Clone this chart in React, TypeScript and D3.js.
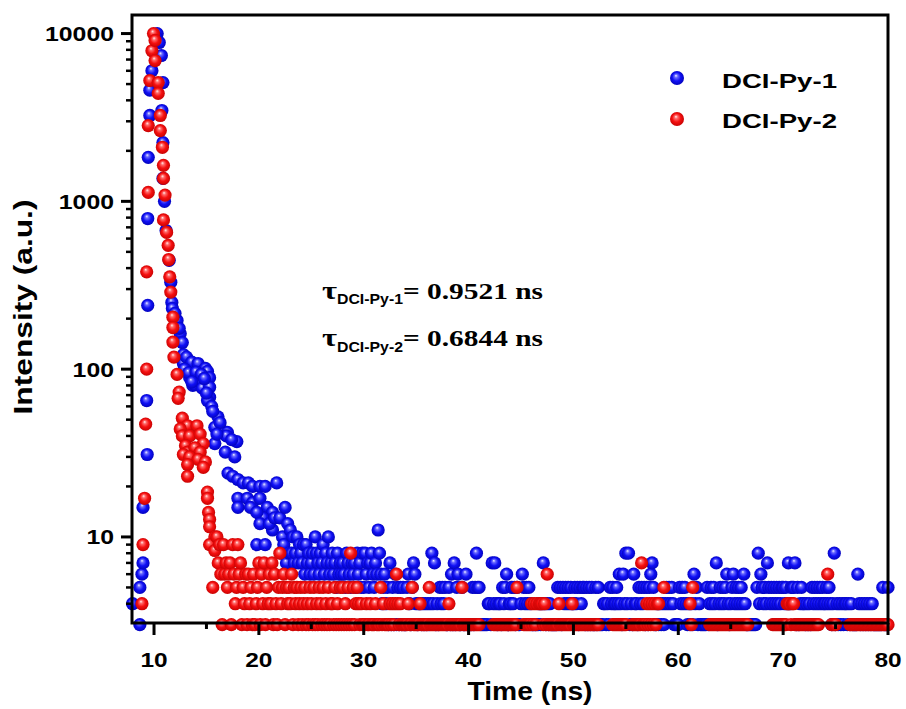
import React from "react";
import * as d3 from "d3";

// ---------------- data ----------------
const seriesNames = ["DCI-Py-1", "DCI-Py-2"];
const xTickValues = [10, 20, 30, 40, 50, 60, 70, 80];
const yTickValues = [10, 100, 1000, 10000];
const tauLabels = ["= 0.9521 ns", "= 0.6844 ns"];

// channel width of the tail histograms (ns); tail counts are base-36 chars per channel, "0" = below axis
const channelWidth = 0.125;

// DCI-Py-1 : rise / peak / early decay (time ns, counts)
const py1PeakTime = [7.95, 8.65, 8.65, 8.85, 8.95, 8.95, 9.35, 9.3, 9.4, 9.4, 9.45, 9.6, 9.6, 9.8, 10.3, 10.2, 10.5, 10.7, 10.85, 10.75, 10.85, 10.85, 11.0, 11.15, 11.45, 11.6, 11.7, 11.75, 12.2, 12.5, 12.7, 12.8, 12.8, 13.1, 13.6, 14.2, 14.9, 15.1, 15.3, 13.4, 13.7, 13.9, 14.4, 14.6, 15.3, 15.3, 15.1, 15.5, 16.1, 15.8, 16.5, 17.0, 17.9, 16.8, 15.8, 17.06, 17.5, 18.0, 18.5, 19.0, 19.4, 20.1, 20.6, 21.7, 18.0, 18.9, 19.4, 20.1, 20.8, 21.3, 20.4, 18.0, 19.2, 19.8, 20.1, 21.3, 19.8, 20.6, 21.0, 21.5, 12.9, 13.3, 14.0, 14.5, 14.8, 13.6, 15.0, 15.6, 16.3, 16.9, 17.4, 16.0, 17.7, 12.4, 12.0];
const py1PeakCounts = [4, 3, 5, 6, 7, 15, 31, 65, 240, 790, 1830, 3250, 4600, 6000, 10000, 9500, 8850, 7400, 5100, 3480, 2240, 1370, 1000, 670, 445, 330, 250, 230, 195, 163, 144, 122, 108, 118, 110, 108, 101, 97, 89, 89, 80, 81, 86, 77, 78, 68, 65, 60, 52, 45, 43, 42, 37, 32, 36, 24, 23, 22, 21, 21, 20, 20, 20, 21, 17, 17, 16, 17, 15, 14, 13, 15, 15, 14, 12, 11, 9, 9, 12, 13, 100, 95, 96, 93, 88, 84, 72, 56, 48, 40, 38, 41, 30, 175, 215];
const py1TailStart = 22;
const py1TailCounts = [
  "d8a9f7c8", "b8a78a79", "87969786", "786a8768", "79687a67", "86758676", "76587657", "67586758",
  "58675786", "576b8645", "64537353", "63535353", "35643576", "43443434", "34348473", "43545453",
  "35363735", "63353363", "33353585", "53333334", "43747434", "43545634", "45453533", "46545454",
  "33333343", "47434343", "33335353", "54545454", "45453545", "53535353", "35353334", "43435454",
  "45464364", "84834364", "43545453", "53567533", "43434345", "45454333", "35454543", "43436453",
  "43333353", "45454734", "54545643", "45645454", "54643333", "33335846", "54547545", "45454545",
  "54547455", "57353454", "43434354", "54545454", "45454348", "34343434", "43434333", "36434343",
  "43434333", "33335333", "5",
].join("");

// DCI-Py-2 : rise / peak / early decay (time ns, counts)
const py2PeakTime = [8.85, 8.95, 9.1, 9.2, 9.3, 9.3, 9.45, 9.45, 9.6, 9.8, 9.95, 10.1, 10.1, 10.4, 10.4, 10.6, 10.6, 10.8, 10.9, 10.9, 11.05, 10.9, 11.2, 11.35, 11.4, 11.5, 11.6, 11.8, 11.8, 11.8, 11.9, 12.2, 12.4, 12.3, 12.7, 13.2, 14.1, 12.5, 12.7, 13.4, 14.4, 14.7, 13.0, 13.2, 13.9, 14.4, 12.8, 13.4, 14.2, 14.9, 13.2, 14.7, 13.2, 15.1, 15.1, 15.2, 15.3, 15.3, 15.8, 15.3, 15.8, 15.6];
const py2PeakCounts = [4, 9, 17, 47, 100, 380, 1130, 2830, 5250, 7900, 10000, 9100, 6900, 5100, 4400, 3250, 2640, 2100, 1640, 1370, 1090, 775, 653, 547, 450, 355, 288, 204, 177, 145, 118, 93, 73, 67, 51, 46, 46, 44, 40, 40, 41, 36, 35, 32, 34, 32, 31, 30, 29, 28, 27, 26, 23, 18.5, 17, 14, 12.7, 11.5, 10, 9, 8.3, 5];
const py2TailStart = 16;
const py2TailCounts = [
  "a7963967", "56739645", "96735463", "64536345", "73647354", "64736435", "84563545", "46354534",
  "53453435", "43534354", "35343534", "43534353", "53435383", "53454343", "33433433", "34333534",
  "33334343", "46434333", "33433533", "33343333", "33533333", "33333333", "34333333", "33353333",
  "33333333", "30000000", "00033333", "33333333", "33333500", "00333333", "43434044", "43436333",
  "33333433", "33333334", "33333333", "33333333", "33330000", "00000033", "33333333", "30000333",
  "33337333", "43434343", "44000500", "00000000", "00000000", "04350000", "00000000", "33333333",
  "33333333", "33333333", "33333300", "00000000", "00000000", "33333333", "33344434", "43333333",
  "33333333", "33330000", "00600333", "30000000", "00033333", "33333333", "33333333", "33333333",
  "3",
].join("");

// ---------------- helpers ----------------
type Pt = { t: number; v: number };
function buildSeries(times: number[], counts: number[], tailStart: number, tail: string): Pt[] {
  const peak = times.map((t, i) => ({ t, v: counts[i] }));
  const tailPts = tail
    .split("")
    .map((c, i) => ({ t: tailStart + i * channelWidth, v: parseInt(c, 36) }))
    .filter((d) => d.v > 0);
  return peak.concat(tailPts);
}

const W = 906;
const H = 709;
const L = 132, R = 888, T = 15, B = 623;
const SANS = "'Liberation Sans', Arial, Helvetica, sans-serif";
const SERIF = "'Liberation Serif', 'Times New Roman', serif";

export default function App() {
  const x = d3.scaleLinear().domain([7.9, 80]).range([L, R]);
  const y = d3.scaleLog().domain([3.07, 12900]).range([B, T]);

  const s1 = buildSeries(py1PeakTime, py1PeakCounts, py1TailStart, py1TailCounts);
  const s2 = buildSeries(py2PeakTime, py2PeakCounts, py2TailStart, py2TailCounts);

  const xMinor = d3.range(15, 80, 10);
  const yMinor: number[] = [];
  [1, 10, 100, 1000].forEach((dec) => {
    for (let k = 2; k <= 9; k++) {
      const v = k * dec;
      if (v > 3.1 && v < 12900) yMinor.push(v);
    }
  });

  const r = 6.6;
  const colors = ["b", "r"];

  return (
    <svg width={W} height={H} style={{ position: "absolute", left: 0, top: 0, background: "#fff" }}>
      <defs>
        <radialGradient id="g-b" cx="0.5" cy="0.5" r="0.55" fx="0.42" fy="0.32">
          <stop offset="0%" stopColor="#f4f4ff" />
          <stop offset="22%" stopColor="#6a6aff" />
          <stop offset="55%" stopColor="#1010f5" />
          <stop offset="100%" stopColor="#0000b4" />
        </radialGradient>
        <radialGradient id="g-r" cx="0.5" cy="0.5" r="0.55" fx="0.42" fy="0.32">
          <stop offset="0%" stopColor="#fff2f2" />
          <stop offset="22%" stopColor="#ff6a6a" />
          <stop offset="55%" stopColor="#f51010" />
          <stop offset="100%" stopColor="#c00000" />
        </radialGradient>
      </defs>
      <rect x={0} y={0} width={W} height={H} fill="#fff" />

      {/* data */}
      <g>
        {s1.map((d, i) => (
          <circle key={"a" + i} cx={x(d.t)} cy={y(d.v)} r={r} fill="url(#g-b)" />
        ))}
        {s2.map((d, i) => (
          <circle key={"b" + i} cx={x(d.t)} cy={y(d.v)} r={r} fill="url(#g-r)" />
        ))}
      </g>

      {/* frame */}
      <rect x={L} y={T} width={R - L} height={B - T} fill="none" stroke="#000" strokeWidth={3} />

      {/* x ticks */}
      {xTickValues.map((v) => (
        <g key={"xt" + v}>
          <line x1={x(v)} x2={x(v)} y1={B} y2={B + 12} stroke="#000" strokeWidth={3} />
          <text x={x(v)} y={667} textAnchor="middle" fontFamily={SANS} fontWeight="bold" fontSize={21}
            textLength={13.6 * String(v).length} lengthAdjust="spacingAndGlyphs">{v}</text>
        </g>
      ))}
      {xMinor.map((v) => (
        <line key={"xm" + v} x1={x(v)} x2={x(v)} y1={B} y2={B + 6} stroke="#000" strokeWidth={3} />
      ))}

      {/* y ticks */}
      {yTickValues.map((v) => (
        <g key={"yt" + v}>
          <line x1={L - 11} x2={L} y1={y(v)} y2={y(v)} stroke="#000" strokeWidth={3} />
          <text x={114} y={y(v) + 7.5} textAnchor="end" fontFamily={SANS} fontWeight="bold" fontSize={21}
            textLength={13.8 * String(v).length} lengthAdjust="spacingAndGlyphs">{v}</text>
        </g>
      ))}
      {yMinor.map((v) => (
        <line key={"ym" + v} x1={L - 6} x2={L} y1={y(v)} y2={y(v)} stroke="#000" strokeWidth={2.5} />
      ))}

      {/* axis titles */}
      <text x={530} y={700} textAnchor="middle" fontFamily={SANS} fontWeight="bold" fontSize={25}
        textLength={125} lengthAdjust="spacingAndGlyphs">Time (ns)</text>
      <text transform={`translate(32,307) rotate(-90)`} textAnchor="middle" fontFamily={SANS} fontWeight="bold"
        fontSize={25} textLength={215} lengthAdjust="spacingAndGlyphs">Intensity (a.u.)</text>

      {/* legend */}
      {seriesNames.map((name, i) => (
        <g key={name}>
          <circle cx={677} cy={78 + i * 41} r={7} fill={`url(#g-${colors[i]})`} />
          <text x={722} y={88 + i * 40} fontFamily={SANS} fontWeight="bold" fontSize={21}
            textLength={115} lengthAdjust="spacingAndGlyphs">{name}</text>
        </g>
      ))}

      {/* lifetime annotations */}
      {seriesNames.map((name, i) => (
        <g key={"tau" + i}>
          <text x={322} y={299 + i * 47} fontFamily={SERIF} fontWeight="bold" fontSize={26}
            textLength={15} lengthAdjust="spacingAndGlyphs">τ</text>
          <text x={337} y={304 + i * 48} fontFamily={SANS} fontWeight="bold" fontSize={14}
            textLength={66} lengthAdjust="spacingAndGlyphs">{name}</text>
          <text x={403} y={299 + i * 47} fontFamily={SERIF} fontWeight="bold" fontSize={24}
            textLength={140} lengthAdjust="spacingAndGlyphs">{tauLabels[i]}</text>
        </g>
      ))}
    </svg>
  );
}
